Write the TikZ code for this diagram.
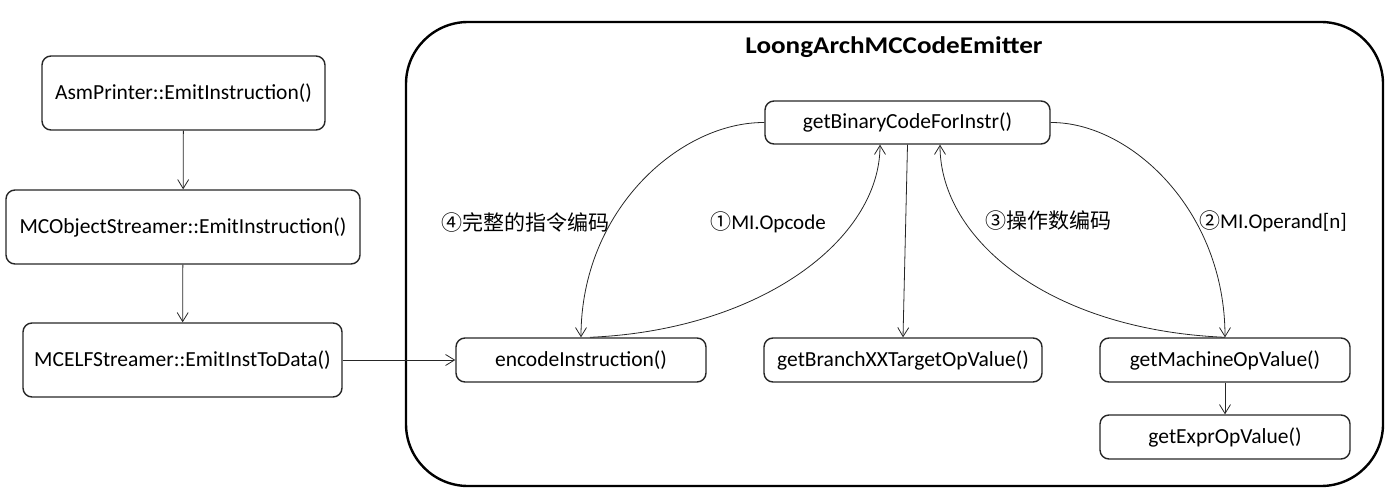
\documentclass[tikz,border=0pt]{standalone}
\usepackage{fontspec}
\setmainfont{Carlito}
\newfontfamily\cjk{Noto Sans CJK SC}
\usetikzlibrary{arrows.meta}
\tikzset{
  box/.style={draw=black!85, line width=1.4pt, rounded corners=9pt, font=\fontsize{21.5}{25}\selectfont, inner sep=0pt},
  conn/.style={draw=black!85, line width=0.8pt, -{Straight Barb[length=9pt,width=11pt,line width=0.8pt]}},
  lbl/.style={font=\fontsize{21}{25}\selectfont, inner sep=0pt}
}
\begin{document}
\begin{tikzpicture}[x=1pt,y=-1pt]
\useasboundingbox (0,0) rectangle (1394,495);
% container
\draw[line width=2.4pt, rounded corners=62pt] (406,22) rectangle (1383,486);
\node[font=\bfseries\fontsize{24}{28}\selectfont, inner sep=0pt] (title) at (894,47) {\scalebox{1.13}[1]{LoongArchMCCodeEmitter}};
% left column
\node[box, minimum width=283pt, minimum height=74pt] (asm) at (183.5,93) {AsmPrinter::EmitInstruction()};
\node[box, minimum width=354pt, minimum height=74pt] (mco) at (183,227) {MCObjectStreamer::EmitInstruction()};
\node[box, minimum width=319pt, minimum height=74pt] (elf) at (182.5,360) {MCELFStreamer::EmitInstToData()};
% inner boxes
\node[box, minimum width=285pt, minimum height=43pt] (bin) at (907.5,122.5) {getBinaryCodeForInstr()};
\node[box, minimum width=250pt, minimum height=44pt] (enc) at (581,360) {encodeInstruction()};
\node[box, minimum width=278pt, minimum height=44pt] (br) at (903,360) {getBranchXXTargetOpValue()};
\node[box, minimum width=250pt, minimum height=44pt] (mach) at (1225,360) {getMachineOpValue()};
\node[box, minimum width=250pt, minimum height=44pt] (expr) at (1225,437) {getExprOpValue()};
% straight connectors
\draw[conn] (asm) -- (mco);
\draw[conn] (mco) -- (elf);
\draw[conn] (elf) -- (enc);
\draw[conn] (mach) -- (expr);
\draw[conn] (bin.south) -- (br.north);
% curves
\draw[conn] (bin.west) .. controls (680,122) and (581,210) .. (enc.north);
\draw[conn] ([xshift=9pt]enc.north) .. controls (760,330) and (880,240) .. ([xshift=-27.5pt]bin.south);
\draw[conn] (mach.north) .. controls (1050,330) and (940,240) .. ([xshift=32.5pt]bin.south);
\draw[conn] (bin.east) .. controls (1130,122) and (1225,210) .. (mach.north);
% labels
\node[lbl] (l4) at (525,222) {{\cjk ④完整的指令编码}};
\node[lbl] (l1) at (768,222) {{\cjk ①}MI.Opcode};
\node[lbl] (l3) at (1048,221) {{\cjk ③操作数编码}};
\node[lbl] (l2) at (1273,221) {{\cjk ②}MI.Operand[n]};
\end{tikzpicture}
\end{document}
